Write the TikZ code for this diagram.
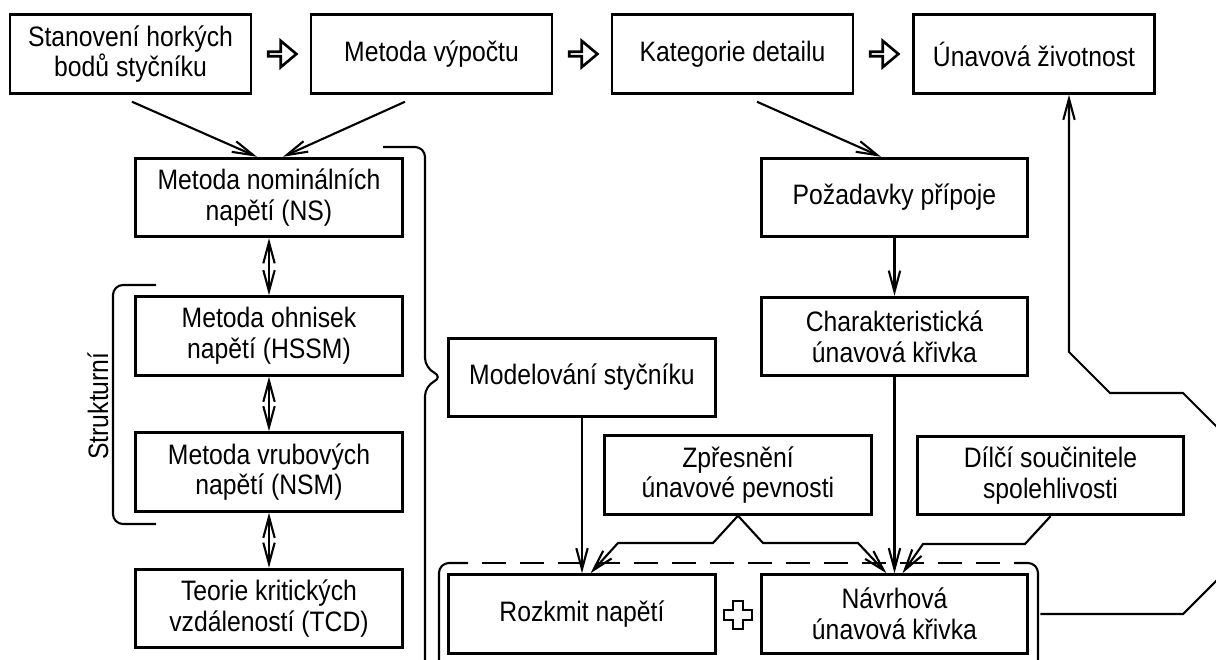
\documentclass[tikz,border=0pt]{standalone}
\usepackage{fontspec}
\setmainfont{Liberation Sans}[FakeStretch=0.88]
\usetikzlibrary{arrows.meta,shapes.arrows}

\begin{document}
\begin{tikzpicture}[
        boxnode/.style={rectangle, draw=black, line width=1.7pt, minimum width=5.33cm, minimum height=1.57cm, align=center, inner sep=2pt, font=\fontsize{16}{17.5}\selectfont},
        topnode/.style={boxnode, minimum width=4.82cm},
        nextnode/.style={single arrow, draw=black, line width=1.5pt, inner sep=0pt, minimum height=16pt, minimum width=15pt, single arrow head extend=3.6pt, single arrow tip angle=80},
        link/.style={line width=1.2pt, -{Straight Barb[length=12pt,width=6.5pt]}},
        both/.style={line width=1.2pt, {Straight Barb[length=12pt,width=6.5pt]}-{Straight Barb[length=12pt,width=6.5pt]}},
        frame/.style={line width=1.2pt},
    ]
        \useasboundingbox (0,0) rectangle (24.32,-13.18);
        \clip (0,0) rectangle (24.32,-13.18);

        %Nodes
        \node[topnode] (stan) at (2.61,-1.08) {Stanovení horkých\\bodů styčníku};
        \node[topnode] (vypocet) at (8.63,-1.08) {Metoda výpočtu};
        \node[topnode] (kat) at (14.65,-1.08) {Kategorie detailu};
        \node[topnode] (zivot) at (20.68,-1.08) {Únavová životnost};

        \node[nextnode] (n1) at (5.62,-1.08) {};
        \node[nextnode] (n2) at (11.64,-1.08) {};
        \node[nextnode] (n3) at (17.66,-1.08) {};

        \node[boxnode] (ns) at (5.38,-3.95) {Metoda nominálních\\napětí (NS)};
        \node[boxnode] (hssm) at (5.38,-6.72) {Metoda ohnisek\\napětí (HSSM)};
        \node[boxnode] (nsm) at (5.38,-9.44) {Metoda vrubových\\napětí (NSM)};
        \node[boxnode] (tcd) at (5.38,-12.17) {Teorie kritických\\vzdáleností (TCD)};

        \node[boxnode] (model) at (11.64,-7.55) {Modelování styčníku};
        \node[boxnode] (zpres) at (14.76,-9.5) {Zpřesnění\\únavové pevnosti};
        \node[boxnode] (rozkmit) at (11.64,-12.28) {Rozkmit napětí};
        \node[boxnode] (navrh) at (17.89,-12.28) {Návrhová\\únavová křivka};

        \node[boxnode] (pozad) at (17.89,-3.95) {Požadavky přípoje};
        \node[boxnode] (charak) at (17.89,-6.73) {Charakteristická\\únavová křivka};
        \node[boxnode] (dilci) at (21.01,-9.51) {Dílčí součinitele\\spolehlivosti};

        \node[rotate=90, font=\fontsize{16}{17.5}\selectfont] (strukt) at (1.96,-8.12) {Strukturní};

        %Lines
        \draw[link] ([shift={(0.03,-0.14)}]stan.south) -- ([xshift=-0.24cm]ns.north);
        \draw[link] ([shift={(-0.53,-0.14)}]vypocet.south) -- ([xshift=0.28cm]ns.north);
        \draw[link] ([shift={(0.49,-0.14)}]kat.south) -- ([xshift=-0.27cm]pozad.north);

        \draw[both] (ns) -- (hssm);
        \draw[both] (hssm) -- (nsm);
        \draw[both] (nsm) -- (tcd);

        \draw[link] (pozad) -- (charak);
        \draw[link] (charak) -- (navrh);
        \draw[link] (model) -- (rozkmit);

        \coordinate (zl1) at (14.26,-10.86);
        \coordinate (zl2) at (12.36,-10.86);
        \coordinate (zr1) at (15.26,-10.86);
        \coordinate (zr2) at (17.16,-10.86);
        \draw[link] (zpres.south) -- (zl1) -- (zl2) -- ([xshift=0.17cm]rozkmit.north);
        \draw[link] (zpres.south) -- (zr1) -- (zr2) -- ([xshift=-0.16cm]navrh.north);

        \coordinate (d1) at (20.5,-10.88);
        \coordinate (d2) at (18.46,-10.88);
        \draw[link] (dilci.south) -- (d1) -- (d2) -- ([xshift=0.16cm]navrh.north);

        % feedback to the top
        \coordinate (f1) at (23.66,-12.28);
        \coordinate (f2) at (24.86,-11.08);
        \coordinate (f3) at (24.86,-9.06);
        \coordinate (f4) at (23.66,-7.86);
        \coordinate (f5) at (22.2,-7.86);
        \coordinate (f6) at (21.38,-7.04);
        \draw[link] ([xshift=0.22cm]navrh.east) -- (f1) -- (f2) -- (f3) -- (f4) -- (f5) -- (f6) -- (f6 |- zivot.south);

        % brackets
        \draw[frame, rounded corners=0.2cm] (7.66,-2.94) -- (8.5,-2.94) -- (8.5,-7.36) -- (8.86,-7.54) -- (8.5,-7.72) -- (8.5,-13.6);
        \draw[frame, rounded corners=0.2cm] (3.12,-5.7) -- (2.26,-5.7) -- (2.26,-10.48) -- (3.12,-10.48);

        % group
        \draw[frame, rounded corners=0.2cm] (8.78,-13.6) -- (8.78,-11.26) -- (9.36,-11.26);
        \draw[frame, dash pattern=on 0.48cm off 0.28cm] (9.64,-11.26) -- (20.3,-11.26);
        \draw[frame, rounded corners=0.2cm] (20.3,-11.26) -- (20.76,-11.26) -- (20.76,-13.6);

        % plus
        \coordinate (plus) at (14.76,-12.3);
        \draw[line width=1.5pt] (plus) ++(-0.1,0.28) -- ++(0.2,0) -- ++(0,-0.18) -- ++(0.18,0) -- ++(0,-0.2) -- ++(-0.18,0) -- ++(0,-0.18) -- ++(-0.2,0) -- ++(0,0.18) -- ++(-0.18,0) -- ++(0,0.2) -- ++(0.18,0) -- cycle;
\end{tikzpicture}
\end{document}
